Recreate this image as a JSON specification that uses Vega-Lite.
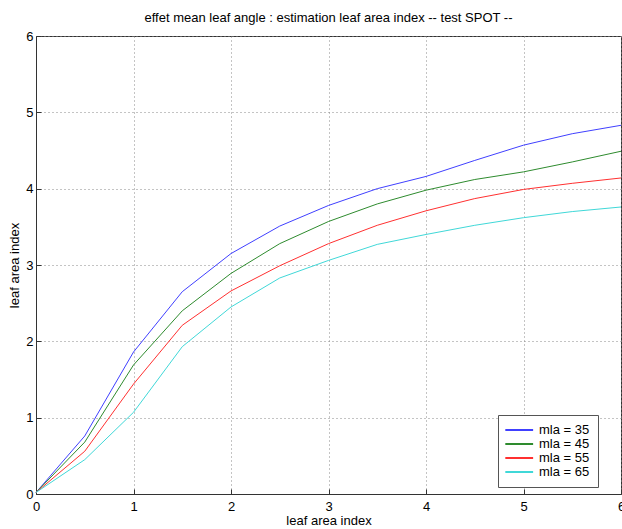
{
  "$schema": "https://vega.github.io/schema/vega-lite/v6.json",
  "autosize": {"type": "none"},
  "padding": {"left": 36, "top": 36, "right": 1, "bottom": 35},
  "width": 585,
  "height": 458,
  "background": "white",
  "title": {"text": "effet mean leaf angle : estimation leaf area index -- test SPOT --", "fontSize": 13, "fontWeight": "normal", "font": "Liberation Sans", "color": "black", "offset": 5},
  "config": {
    "view": {"stroke": "#333333", "strokeWidth": 1},
    "font": "Liberation Sans",
    "axis": {"labelFont": "Liberation Sans", "titleFont": "Liberation Sans", "labelFontSize": 13, "titleFontSize": 13, "titleFontWeight": "normal", "labelColor": "black", "titleColor": "black", "domainColor": "#333333", "tickColor": "#333333", "gridColor": "#888888", "gridDash": [1, 3], "gridOpacity": 1, "tickSize": -5}
  },
  "data": {"values": [
    {"lai": 0, "est": 0.02, "mla": "mla = 35"},
    {"lai": 0.5, "est": 0.76, "mla": "mla = 35"},
    {"lai": 1, "est": 1.86, "mla": "mla = 35"},
    {"lai": 1.5, "est": 2.65, "mla": "mla = 35"},
    {"lai": 2, "est": 3.15, "mla": "mla = 35"},
    {"lai": 2.5, "est": 3.51, "mla": "mla = 35"},
    {"lai": 3, "est": 3.78, "mla": "mla = 35"},
    {"lai": 3.5, "est": 4.0, "mla": "mla = 35"},
    {"lai": 4, "est": 4.16, "mla": "mla = 35"},
    {"lai": 4.5, "est": 4.37, "mla": "mla = 35"},
    {"lai": 5, "est": 4.57, "mla": "mla = 35"},
    {"lai": 5.5, "est": 4.72, "mla": "mla = 35"},
    {"lai": 6, "est": 4.83, "mla": "mla = 35"},
    {"lai": 0, "est": 0.02, "mla": "mla = 45"},
    {"lai": 0.5, "est": 0.68, "mla": "mla = 45"},
    {"lai": 1, "est": 1.69, "mla": "mla = 45"},
    {"lai": 1.5, "est": 2.4, "mla": "mla = 45"},
    {"lai": 2, "est": 2.89, "mla": "mla = 45"},
    {"lai": 2.5, "est": 3.28, "mla": "mla = 45"},
    {"lai": 3, "est": 3.57, "mla": "mla = 45"},
    {"lai": 3.5, "est": 3.8, "mla": "mla = 45"},
    {"lai": 4, "est": 3.98, "mla": "mla = 45"},
    {"lai": 4.5, "est": 4.12, "mla": "mla = 45"},
    {"lai": 5, "est": 4.22, "mla": "mla = 45"},
    {"lai": 5.5, "est": 4.35, "mla": "mla = 45"},
    {"lai": 6, "est": 4.49, "mla": "mla = 45"},
    {"lai": 0, "est": 0.02, "mla": "mla = 55"},
    {"lai": 0.5, "est": 0.56, "mla": "mla = 55"},
    {"lai": 1, "est": 1.44, "mla": "mla = 55"},
    {"lai": 1.5, "est": 2.21, "mla": "mla = 55"},
    {"lai": 2, "est": 2.66, "mla": "mla = 55"},
    {"lai": 2.5, "est": 2.99, "mla": "mla = 55"},
    {"lai": 3, "est": 3.28, "mla": "mla = 55"},
    {"lai": 3.5, "est": 3.52, "mla": "mla = 55"},
    {"lai": 4, "est": 3.71, "mla": "mla = 55"},
    {"lai": 4.5, "est": 3.87, "mla": "mla = 55"},
    {"lai": 5, "est": 3.99, "mla": "mla = 55"},
    {"lai": 5.5, "est": 4.07, "mla": "mla = 55"},
    {"lai": 6, "est": 4.14, "mla": "mla = 55"},
    {"lai": 0, "est": 0.02, "mla": "mla = 65"},
    {"lai": 0.5, "est": 0.45, "mla": "mla = 65"},
    {"lai": 1, "est": 1.07, "mla": "mla = 65"},
    {"lai": 1.5, "est": 1.93, "mla": "mla = 65"},
    {"lai": 2, "est": 2.45, "mla": "mla = 65"},
    {"lai": 2.5, "est": 2.83, "mla": "mla = 65"},
    {"lai": 3, "est": 3.06, "mla": "mla = 65"},
    {"lai": 3.5, "est": 3.27, "mla": "mla = 65"},
    {"lai": 4, "est": 3.4, "mla": "mla = 65"},
    {"lai": 4.5, "est": 3.52, "mla": "mla = 65"},
    {"lai": 5, "est": 3.62, "mla": "mla = 65"},
    {"lai": 5.5, "est": 3.7, "mla": "mla = 65"},
    {"lai": 6, "est": 3.76, "mla": "mla = 65"}
  ]},
  "mark": {"type": "line", "strokeWidth": 1},
  "encoding": {
    "x": {"field": "lai", "type": "quantitative", "scale": {"domain": [0, 6], "nice": false}, "axis": {"title": "leaf area index", "values": [0, 1, 2, 3, 4, 5, 6], "format": "d", "labelPadding": 11, "titlePadding": 1, "labelFlush": false}},
    "y": {"field": "est", "type": "quantitative", "scale": {"domain": [0, 6], "nice": false}, "axis": {"title": "leaf area index", "values": [0, 1, 2, 3, 4, 5, 6], "format": "d", "labelPadding": 8, "titlePadding": 4, "labelFlush": false}},
    "color": {"field": "mla", "type": "nominal", "scale": {"domain": ["mla = 35", "mla = 45", "mla = 55", "mla = 65"], "range": ["#4040ff", "#2e8b2e", "#ff3030", "#40d8d8"]},
      "legend": {"title": null, "orient": "none", "legendX": 462, "legendY": 379, "symbolType": "M-1.3,0L3.4,0", "symbolSize": 140, "symbolStrokeWidth": 2, "labelFontSize": 13, "labelFont": "Liberation Sans", "labelColor": "black", "fillColor": "white", "strokeColor": "#555555", "padding": 8, "rowPadding": -1, "labelOffset": 19, "offset": 0}}
  }
}
